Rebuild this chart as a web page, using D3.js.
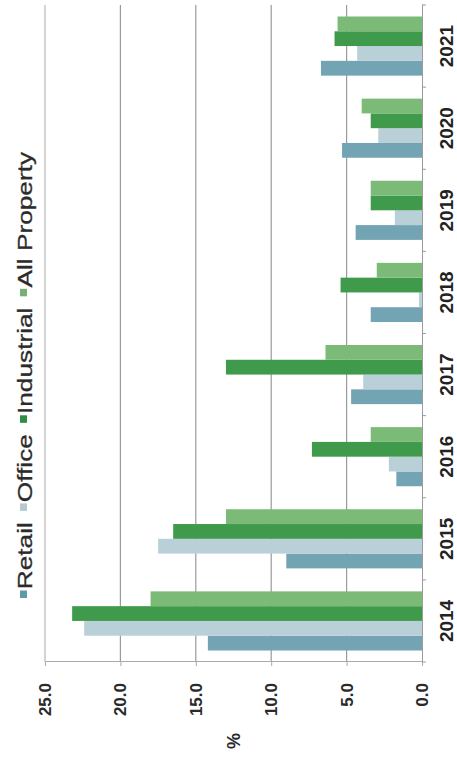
<!DOCTYPE html>
<html>
<head>
<meta charset="utf-8">
<script src="https://cdn.jsdelivr.net/npm/d3@7"></script>
<style>
  html, body { margin: 0; padding: 0; background: #fff; }
  svg { display: block; font-family: "Liberation Sans", Arial, sans-serif; }
</style>
</head>
<body>
<svg id="chart" width="457" height="761"></svg>
<script>
// Annual total returns by property sector (%)
const years = ["2014", "2015", "2016", "2017", "2018", "2019", "2020", "2021"];
const seriesNames = ["Retail", "Office", "Industrial", "All Property"];
const retail      = [14.2,  9.0, 1.7, 4.7, 3.4, 4.4, 5.3, 6.7];
const office      = [22.4, 17.5, 2.2, 3.9, 0.2, 1.8, 2.9, 4.3];
const industrial  = [23.2, 16.5, 7.3, 13.0, 5.4, 3.4, 3.4, 5.8];
const allProperty = [18.0, 13.0, 3.4, 6.4, 3.0, 3.4, 4.0, 5.6];
const valueTicks = [0, 5, 10, 15, 20, 25];

const seriesValues = [retail, office, industrial, allProperty];
const barColors    = ["#72a4b3", "#b9d0d9", "#3f9b4b", "#7cbb77"];
const legendColors = ["#5f9aa6", "#b5c9cf", "#2f8c46", "#7aae79"];

const W = 457, H = 761;
const svg = d3.select("#chart");

// The chart is laid out as an ordinary column chart inside a frame that is
// turned a quarter turn counter-clockwise, so categories run bottom-to-top.
const frame = svg.append("g").attr("transform", `translate(0,${H}) rotate(-90)`);

const x0 = d3.scaleBand().domain(years).range([99, 756]).paddingInner(0.28).paddingOuter(0.14);
const x1 = d3.scaleBand().domain(seriesNames).range([0, x0.bandwidth()]);
const y = d3.scaleLinear().domain([0, 25]).range([422, 45]);

// value gridlines
frame.append("g").selectAll("line")
  .data(valueTicks.filter(v => v > 0))
  .join("line")
  .attr("x1", 99).attr("x2", 756)
  .attr("y1", d => y(d)).attr("y2", d => y(d))
  .attr("stroke", d => d === 25 ? "#b8b8b8" : "#9a9a9a")
  .attr("stroke-width", 1.2);

// bars
const groups = frame.append("g").selectAll("g")
  .data(years)
  .join("g")
  .attr("transform", d => `translate(${x0(d)},0)`);

groups.selectAll("rect")
  .data((yr, i) => seriesNames.map((s, k) => ({ s, k, v: seriesValues[k][i] })))
  .join("rect")
  .attr("x", d => x1(d.s))
  .attr("width", x1.bandwidth())
  .attr("y", d => y(d.v))
  .attr("height", d => y(0) - y(d.v))
  .attr("fill", d => barColors[d.k]);

// value axis (runs along the bottom of the page)
const valueAxis = frame.append("g")
  .attr("transform", "translate(99,0)")
  .call(d3.axisLeft(y).tickValues(valueTicks).tickFormat(d3.format(".1f")).tickSizeInner(4).tickSizeOuter(0));
valueAxis.select(".domain").attr("stroke", "#aaa");
valueAxis.selectAll(".tick line").attr("stroke", "#aaa");
valueAxis.selectAll(".tick text")
  .attr("x", -21)
  .attr("fill", "#2a2a2a")
  .style("font-size", "17px")
  .style("font-weight", "bold")
  .style("font-family", "Liberation Sans, Arial, sans-serif");

// category axis (runs along the right side of the page)
const catAxis = frame.append("g")
  .attr("transform", `translate(0,${y(0)})`)
  .call(d3.axisBottom(x0).tickSize(0).tickPadding(0));
catAxis.select(".domain").attr("stroke", "#9a9a9a");
catAxis.selectAll(".tick text")
  .attr("y", 31)
  .attr("dy", 0)
  .attr("fill", "#222")
  .style("font-size", "19px")
  .style("font-weight", "bold")
  .style("font-family", "Liberation Sans, Arial, sans-serif");
// band boundary ticks
const bounds = years.map(d => x0(d) - x0.step() * x0.paddingInner() / 2).concat([756]);
frame.append("g").selectAll("line")
  .data(bounds)
  .join("line")
  .attr("x1", d => d).attr("x2", d => d)
  .attr("y1", y(0)).attr("y2", y(0) + 4)
  .attr("stroke", "#9a9a9a");

// axis title
frame.append("text")
  .attr("x", 20).attr("y", 240)
  .attr("text-anchor", "middle")
  .attr("fill", "#2a2a2a")
  .style("font-size", "18px")
  .style("font-weight", "bold")
  .text("%");

// legend
const legend = frame.append("g").attr("transform", "translate(163,0) scale(1.25,1)");
let lx = 0;
seriesNames.forEach((name, k) => {
  legend.append("rect")
    .attr("x", lx).attr("y", 20).attr("width", 6).attr("height", 7)
    .attr("fill", legendColors[k]);
  const t = legend.append("text")
    .attr("x", lx + 7).attr("y", 32)
    .attr("fill", "#2b2b2b")
    .attr("stroke", "#2b2b2b")
    .attr("stroke-width", 0.3)
    .style("font-size", "21px")
    .text(name);
  lx += 7 + t.node().getComputedTextLength() + 9;
});
</script>
</body>
</html>
